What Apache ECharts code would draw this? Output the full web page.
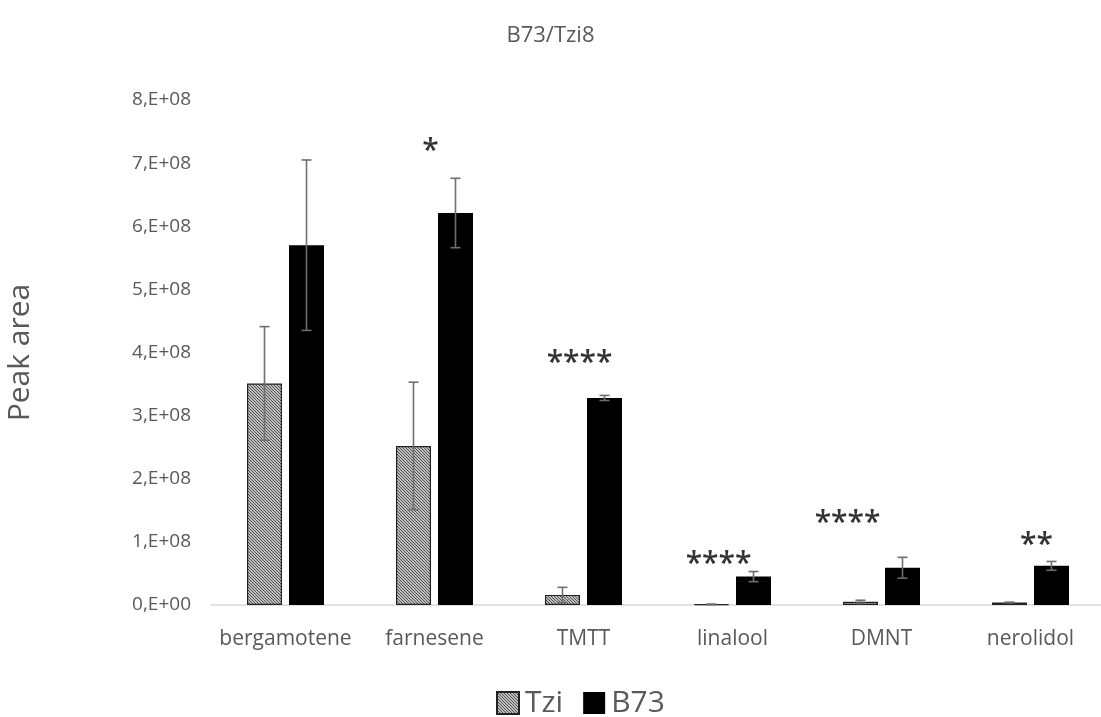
<!DOCTYPE html>
<html>
<head>
<meta charset="utf-8">
<script src="https://cdn.jsdelivr.net/npm/echarts@6/dist/echarts.min.js"></script>
<style>
  html, body { margin: 0; padding: 0; background: #fff; }
  #chart { width: 1101px; height: 717px; }
</style>
</head>
<body>
<div id="chart"></div>
<script>
const categories = ['bergamotene', 'farnesene', 'TMTT', 'linalool', 'DMNT', 'nerolidol']
const tziValues = [3.51e8, 2.52e8, 0.16e8, 0.01e8, 0.05e8, 0.04e8]
const tziErrors = [0.90e8, 1.01e8, 0.12e8, 0.005e8, 0.025e8, 0.005e8]
const b73Values = [5.70e8, 6.21e8, 3.28e8, 0.45e8, 0.59e8, 0.62e8]
const b73Errors = [1.35e8, 0.55e8, 0.04e8, 0.08e8, 0.165e8, 0.07e8]
const starLabels = ['', '*', '****', '****', '****', '**']
const starValues = [0, 7.18e8, 3.83e8, 0.64e8, 1.29e8, 0.94e8]
const starShift = [0, -4, -4, -14, -34, 6]
const yTicks = [0, 1e8, 2e8, 3e8, 4e8, 5e8, 6e8, 7e8, 8e8]

const font = '"Open Sans", "DejaVu Sans", sans-serif'

function hatch() {
  const c = document.createElement('canvas')
  c.width = 3
  c.height = 3
  const ctx = c.getContext('2d')
  ctx.fillStyle = '#bdbdbd'
  ctx.fillRect(0, 0, 3, 3)
  ctx.fillStyle = '#555'
  for (let i = 0; i < 3; i++) ctx.fillRect(i, i, 1, 1)
  return { image: c, repeat: 'repeat' }
}

const barW = 35
const shift = 21

function errorSeries(values, errors, dx) {
  return {
    type: 'custom',
    silent: true,
    z: 5,
    data: values.map((v, i) => [i, v - errors[i], v + errors[i]]),
    encode: { x: 0, y: [1, 2] },
    renderItem: (params, api) => {
      const lo = api.coord([api.value(0), api.value(1)])
      const hi = api.coord([api.value(0), api.value(2)])
      const x = lo[0] + dx
      const cap = 5
      const style = { stroke: '#6e6e6e', lineWidth: 1.6 }
      return {
        type: 'group',
        children: [
          { type: 'line', shape: { x1: x, y1: lo[1], x2: x, y2: hi[1] }, style },
          { type: 'line', shape: { x1: x - cap, y1: lo[1], x2: x + cap, y2: lo[1] }, style },
          { type: 'line', shape: { x1: x - cap, y1: hi[1], x2: x + cap, y2: hi[1] }, style }
        ]
      }
    }
  }
}

const chart = echarts.init(document.getElementById('chart'))

const option = {
  animation: false,
  title: {
    text: 'B73/Tzi8',
    left: 'center',
    top: 20,
    textStyle: { fontFamily: font, fontWeight: 'normal', fontSize: 22, color: '#595959' }
  },
  legend: {
    data: ['Tzi', 'B73'],
    left: 491,
    top: 683,
    icon: 'rect',
    itemWidth: 22,
    itemHeight: 22,
    itemGap: 20,
    textStyle: { fontFamily: font, fontSize: 30, color: '#595959', padding: [0, 0, 0, 1] }
  },
  grid: { left: 211, top: 100, width: 894, height: 505, outerBoundsMode: 'none', containLabel: false },
  xAxis: {
    type: 'category',
    data: categories,
    axisLine: { lineStyle: { color: '#d9d9d9', width: 1.5 } },
    axisTick: { show: false },
    axisLabel: { interval: 0, fontFamily: font, fontSize: 21, color: '#595959', margin: 24 }
  },
  yAxis: {
    type: 'value',
    min: 0,
    max: 8e8,
    interval: 1e8,
    name: 'Peak area',
    nameLocation: 'middle',
    nameGap: 176,
    nameTextStyle: { fontFamily: font, fontSize: 30, color: '#595959' },
    axisLine: { show: false },
    axisTick: { show: false },
    splitLine: { show: false },
    axisLabel: {
      fontFamily: font,
      fontSize: 19,
      color: '#595959',
      margin: 20,
      formatter: v => (yTicks.indexOf(v) >= 0 ? (v / 1e8) + (v === 0 ? ',E+00' : ',E+08') : '')
    }
  },
  series: [
    {
      name: 'Tzi',
      type: 'bar',
      data: tziValues,
      barWidth: barW,
      barGap: '20%',
      itemStyle: { color: hatch(), borderColor: '#222', borderWidth: 1.2 }
    },
    {
      name: 'B73',
      type: 'bar',
      data: b73Values,
      barWidth: barW,
      barGap: '20%',
      itemStyle: { color: '#000' }
    },
    errorSeries(tziValues, tziErrors, -shift),
    errorSeries(b73Values, b73Errors, shift),
    {
      type: 'scatter',
      silent: true,
      symbolSize: 0,
      data: starValues.map((v, i) => ({
        value: [i, v],
        label: { offset: [starShift[i], 0] }
      })),
      label: {
        show: true,
        position: 'inside',
        formatter: p => starLabels[p.dataIndex],
        fontFamily: font,
        fontSize: 30,
        fontWeight: 600,
        color: '#000'
      }
    }
  ]
}

chart.setOption(option)
</script>
</body>
</html>
